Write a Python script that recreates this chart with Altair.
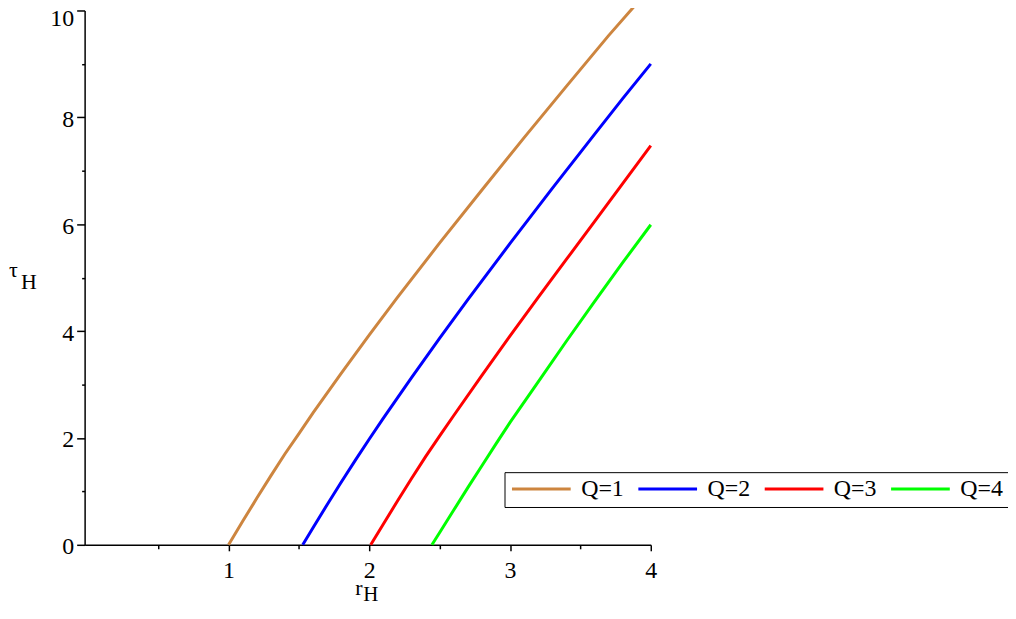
import altair as alt
import pandas as pd

# ---- data (r_H, tau_H) ----
series_labels = ["Q=1", "Q=2", "Q=3", "Q=4"]
series_colors = ["#CD853F", "#0000FF", "#FF0000", "#00FF00"]

q1_r = [1.00, 1.10, 1.20, 1.30, 1.40, 1.50, 1.60, 1.80, 2.00, 2.20, 2.50, 2.80, 3.10, 3.40, 3.70, 3.89]
q1_t = [0.00, 0.44, 0.87, 1.29, 1.70, 2.08, 2.47, 3.21, 3.93, 4.63, 5.65, 6.64, 7.62, 8.58, 9.53, 10.10]
q2_r = [1.527, 1.60, 1.70, 1.80, 1.90, 2.00, 2.10, 2.30, 2.50, 2.70, 3.00, 3.30, 3.60, 3.80, 4.00]
q2_t = [0.00, 0.32, 0.75, 1.17, 1.58, 1.98, 2.37, 3.13, 3.87, 4.59, 5.64, 6.67, 7.68, 8.35, 9.00]
q3_r = [2.01, 2.10, 2.20, 2.30, 2.40, 2.50, 2.60, 2.80, 3.00, 3.20, 3.40, 3.60, 3.80, 4.00]
q3_t = [0.00, 0.39, 0.82, 1.24, 1.65, 2.04, 2.42, 3.17, 3.91, 4.63, 5.34, 6.05, 6.76, 7.47]
q4_r = [2.445, 2.50, 2.60, 2.70, 2.80, 2.90, 3.00, 3.20, 3.40, 3.60, 3.80, 4.00]
q4_t = [0.00, 0.23, 0.65, 1.07, 1.48, 1.89, 2.29, 3.05, 3.81, 4.55, 5.28, 5.99]

x_tick_values = [0.5, 1, 1.5, 2, 2.5, 3, 3.5, 4]
y_tick_values = [0, 1, 2, 3, 4, 5, 6, 7, 8, 9, 10]

rows = []
for lab, rs, ts in zip(series_labels, [q1_r, q2_r, q3_r, q4_r], [q1_t, q2_t, q3_t, q4_t]):
    for r, t in zip(rs, ts):
        rows.append({"r": r, "tau": t, "Q": lab})
df = pd.DataFrame(rows)
one = pd.DataFrame({"k": [0]})

FONT = "Liberation Serif, Times New Roman, Times, DejaVu Serif, serif"
W, H = 569, 537

x_axis = alt.Axis(
    values=x_tick_values,
    labelExpr="datum.value % 1 === 0 ? '' + datum.value : ''",
    title=None, grid=False,
    domainColor="black", domainWidth=1.5,
    tickColor="black", tickWidth=1.5,
    tickSize={"condition": {"test": "datum.value % 1 !== 0", "value": 4}, "value": 6},
    labelFont=FONT, labelFontSize=24, labelColor="black",
    labelPadding=8, labelFlush=False, labelOverlap=False,
)
y_axis = alt.Axis(
    values=y_tick_values,
    labelExpr="datum.value % 2 === 0 ? '' + datum.value : ''",
    title=None, grid=False,
    domainColor="black", domainWidth=1.5,
    tickColor="black", tickWidth=1.5,
    tickSize={"condition": {"test": "datum.value % 2 !== 0", "value": 3}, "value": 8},
    labelOffset={"condition": {"test": "datum.value === 10", "value": 8}, "value": 2},
    labelFont=FONT, labelFontSize=24, labelColor="black",
    labelPadding=3, labelFlush=False, labelOverlap=False,
)

lines = alt.Chart(df).mark_line(strokeWidth=3).encode(
    x=alt.X("r:Q", scale=alt.Scale(domain=[-0.023, 4], nice=False, zero=False), axis=x_axis),
    y=alt.Y("tau:Q", scale=alt.Scale(domain=[0, 10], nice=False, zero=False), axis=y_axis),
    color=alt.Color(
        "Q:N",
        scale=alt.Scale(domain=series_labels, range=series_colors),
        legend=alt.Legend(
            title=None, orient="none", legendX=422, legendY=464,
            direction="horizontal", columns=4,
            symbolType="stroke", symbolSize=3481, symbolStrokeWidth=3,
            labelFont=FONT, labelFontSize=24, labelColor="black",
            strokeColor="black", fillColor="white", padding=6,
            columnPadding=13, labelOffset=9, clipHeight=22,
        ),
    ),
    order=alt.Order("r:Q"),
)

def label(txt, px, py, size):
    return alt.Chart(one).mark_text(
        text=txt, font=FONT, fontSize=size, color="black",
        align="left", baseline="alphabetic"
    ).encode(x=alt.value(px), y=alt.value(py))

titles = (
    label("r", 272, 587, 22)
    + label("H", 280, 593, 21)
    + label("τ", -76, 268, 22)
    + label("H", -64, 280, 22)
)

chart = alt.layer(lines, titles).properties(
    width=W, height=H,
    autosize=alt.AutoSizeParams(type="none"),
    padding={"left": 77, "top": 1, "right": 359, "bottom": 60},
    background="white",
).configure_view(stroke=None)

chart.save("out.html", embed_options={"renderer": "svg", "actions": False})
